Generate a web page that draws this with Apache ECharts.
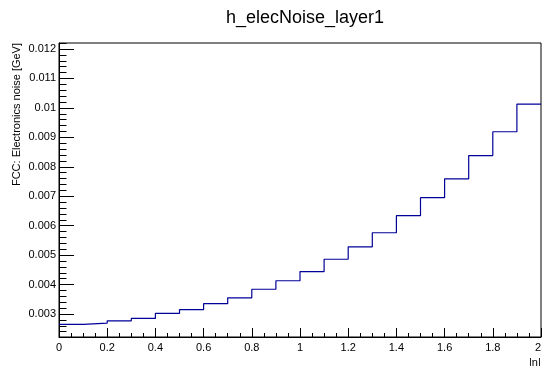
<!DOCTYPE html>
<html>
<head>
<meta charset="utf-8">
<script src="https://cdn.jsdelivr.net/npm/echarts@6/dist/echarts.min.js"></script>
<style>
  html, body { margin: 0; padding: 0; background: #fff; }
  #main { width: 542px; height: 366px; }
</style>
</head>
<body>
<div id="main"></div>
<script>
// bin edges in |eta| (20 bins of width 0.1)
var binEdges = [0, 0.1, 0.2, 0.3, 0.4, 0.5, 0.6, 0.7, 0.8, 0.9, 1.0,
                1.1, 1.2, 1.3, 1.4, 1.5, 1.6, 1.7, 1.8, 1.9, 2.0];
// electronics noise per bin [GeV]
var noiseValues = [0.00265, 0.00269, 0.00277, 0.00285, 0.00302, 0.00315, 0.00335, 0.00355, 0.00384, 0.00413,
                   0.00444, 0.00486, 0.00528, 0.00576, 0.00634, 0.00695, 0.00759, 0.00838, 0.00919, 0.01013];
var yTicks = [0.003, 0.004, 0.005, 0.006, 0.007, 0.008, 0.009, 0.010, 0.011, 0.012];
var yMin = 0.002219, yMax = 0.012204;

// minor ticks every 0.0002
var yMinor = [];
for (var k = 12; k <= 61; k++) {
    var v = k * 0.0002;
    if (v >= yMin && v <= yMax && k % 5 !== 0) yMinor.push(v);
}

// histogram drawn as step line: one point per left edge + closing point
var histData = [];
for (var i = 0; i < noiseValues.length; i++) {
    histData.push([binEdges[i], noiseValues[i]]);
}
histData.push([binEdges[binEdges.length - 1], noiseValues[noiseValues.length - 1]]);

var font = 'Liberation Sans, Arial, Helvetica, sans-serif';
var chart = echarts.init(document.getElementById('main'), null, { renderer: 'canvas' });
var option = {
    animation: false,
    backgroundColor: '#fff',
    title: {
        text: 'h_elecNoise_layer1',
        left: 221,
        top: 4,
        textStyle: { fontFamily: font, fontSize: 18, fontWeight: 'normal', color: '#000' }
    },
    grid: {
        left: 59, right: 1, top: 43, bottom: 29,
        outerBoundsMode: 'none',
        show: true, borderColor: '#000', borderWidth: 1
    },
    xAxis: {
        type: 'value',
        min: 0, max: 2, interval: 0.2,
        name: '|η|',
        nameLocation: 'end',
        nameGap: -12,
        nameMoveOverlap: false,
        nameTextStyle: { fontFamily: font, fontSize: 11, color: '#000', verticalAlign: 'top', padding: [20, 0, 0, 0] },
        axisLine: { lineStyle: { color: '#000', width: 1 } },
        axisTick: { inside: true, length: 9, lineStyle: { color: '#000' } },
        minorTick: { show: true, splitNumber: 4, length: 4, lineStyle: { color: '#000' } },
        axisLabel: {
            fontFamily: font, fontSize: 11, color: '#000', margin: 5,
            alignMaxLabel: 'right',
            formatter: function (v) { return String(+v.toFixed(1)); }
        },
        splitLine: { show: false }
    },
    yAxis: [{
        type: 'value',
        min: yMin, max: yMax,
        name: 'FCC: Electronics noise [GeV]',
        nameLocation: 'end',
        nameRotate: 90,
        nameGap: 0,
        nameTextStyle: { fontFamily: font, fontSize: 11, color: '#000', align: 'right', verticalAlign: 'bottom', padding: [0, 0, 37, 0] },
        axisLine: { lineStyle: { color: '#000', width: 1 } },
        axisTick: { inside: true, length: 15, customValues: yTicks, lineStyle: { color: '#000' } },
        axisLabel: {
            fontFamily: font, fontSize: 11, color: '#000', margin: 3,
            customValues: yTicks,
            formatter: function (v) { return String(+v.toFixed(3)); }
        },
        splitLine: { show: false }
    }, {
        type: 'value',
        min: yMin, max: yMax,
        position: 'left',
        axisLine: { show: false },
        axisTick: { show: true, inside: true, length: 7.5, customValues: yMinor, lineStyle: { color: '#000' } },
        axisLabel: { show: false },
        splitLine: { show: false }
    }],
    series: [{
        type: 'line',
        step: 'end',
        yAxisIndex: 0,
        data: histData,
        showSymbol: false,
        lineStyle: { color: '#000099', width: 1.2 },
        clip: true
    }]
};
chart.setOption(option);
</script>
</body>
</html>
